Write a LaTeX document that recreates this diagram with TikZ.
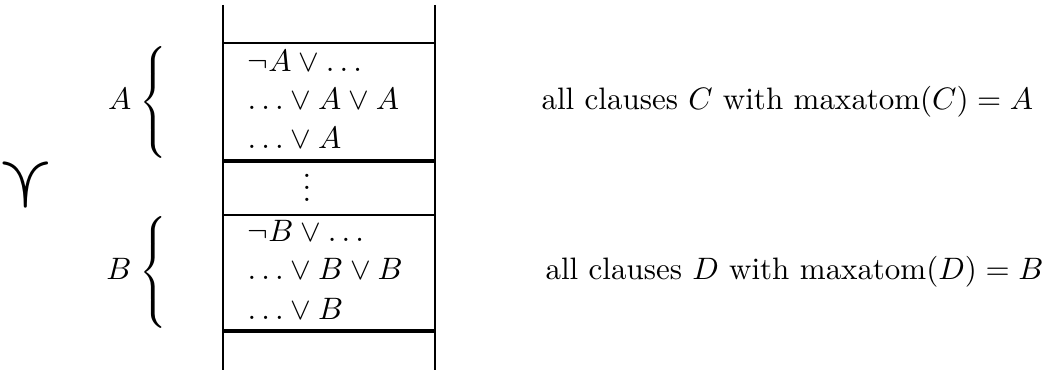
\documentclass[tikz,border=0pt]{standalone}
\usepackage{amssymb}
\usepackage{amsmath}
\tikzstyle{clause}=[anchor=base west, inner sep=0pt]
\tikzstyle{rule}=[draw=black, line width=0.7pt]
\begin{document}
\begin{tikzpicture}[x=0.3226pt, y=-0.3226pt]
		   \useasboundingbox (0,0) rectangle (1051,374);
		   \node at (26,185)[inner sep=0pt] (ord) {\Huge$\curlyvee$};
		   \draw[rule] (223,5) -- (223,370);
		   \draw[rule] (435,5) -- (435,370);
		   \foreach \y in {43,215} \draw[rule] (223,\y) -- (435,\y);
		   \foreach \y in {161,331} \draw[rule, line width=1pt] (223,\y) -- (435,\y);
		   \node at (247,72)[clause] (a1) {$\neg A \vee \ldots$};
		   \node at (247,110)[clause] (a2) {$\ldots \vee A \vee A$};
		   \node at (247,149)[clause] (a3) {$\ldots \vee A$};
		   \node at (307,202)[anchor=base, inner sep=0pt] (gap) {$\vdots$};
		   \node at (247,242)[clause] (b1) {$\neg B \vee \ldots$};
		   \node at (247,280)[clause] (b2) {$\ldots \vee B \vee B$};
		   \node at (247,320)[clause] (b3) {$\ldots \vee B$};
		   \node at (132,110)[anchor=base east, inner sep=0pt] (la) {$A$};
		   \node at (132,280)[anchor=base east, inner sep=0pt] (lb) {$B$};
		   \node at (139,110)[anchor=base west, inner sep=0pt] (ba) {$\left\{\vrule height 16pt depth 16pt width 0pt\right.$};
		   \node at (139,280)[anchor=base west, inner sep=0pt] (bb) {$\left\{\vrule height 16pt depth 16pt width 0pt\right.$};
		   \node at (541,110)[clause] (ca) {all clauses $C$ with $\mathrm{maxatom}(C) = A$};
		   \node at (545,280)[clause] (cb) {all clauses $D$ with $\mathrm{maxatom}(D) = B$};
	   \end{tikzpicture}
\end{document}
